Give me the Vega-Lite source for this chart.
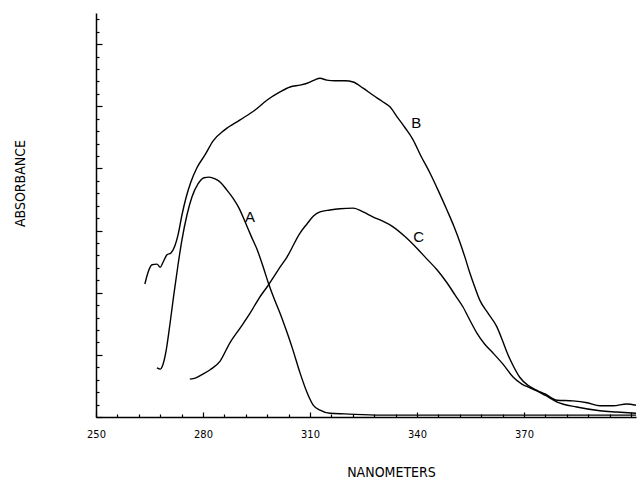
{
  "$schema": "https://vega.github.io/schema/vega-lite/v6.json",
  "width": 540,
  "height": 404,
  "autosize": "none",
  "padding": {"left": 96, "top": 13, "right": 1, "bottom": 62},
  "background": "white",
  "config": {
    "view": {"stroke": null},
    "axis": {"grid": false, "domainColor": "black", "tickColor": "black", "labelColor": "black", "titleColor": "black", "domainWidth": 1.5, "tickWidth": 1.2}
  },
  "datasets": {
    "curves": [
      {"s": "A", "nm": 267.1, "abs": 0.79}, {"s": "A", "nm": 268.0, "abs": 0.77}, {"s": "A", "nm": 268.8, "abs": 0.85},
      {"s": "A", "nm": 269.7, "abs": 1.08}, {"s": "A", "nm": 270.7, "abs": 1.48}, {"s": "A", "nm": 271.8, "abs": 1.96},
      {"s": "A", "nm": 273.0, "abs": 2.45}, {"s": "A", "nm": 274.1, "abs": 2.85}, {"s": "A", "nm": 275.5, "abs": 3.25},
      {"s": "A", "nm": 276.9, "abs": 3.54}, {"s": "A", "nm": 278.6, "abs": 3.75}, {"s": "A", "nm": 280.3, "abs": 3.85},
      {"s": "A", "nm": 281.7, "abs": 3.86}, {"s": "A", "nm": 283.4, "abs": 3.83}, {"s": "A", "nm": 285.0, "abs": 3.77},
      {"s": "A", "nm": 286.7, "abs": 3.65}, {"s": "A", "nm": 288.4, "abs": 3.52}, {"s": "A", "nm": 290.1, "abs": 3.36},
      {"s": "A", "nm": 291.8, "abs": 3.14}, {"s": "A", "nm": 293.5, "abs": 2.91}, {"s": "A", "nm": 295.2, "abs": 2.69},
      {"s": "A", "nm": 296.9, "abs": 2.41}, {"s": "A", "nm": 298.3, "abs": 2.16}, {"s": "A", "nm": 299.9, "abs": 1.91},
      {"s": "A", "nm": 301.6, "abs": 1.67}, {"s": "A", "nm": 303.5, "abs": 1.37}, {"s": "A", "nm": 305.2, "abs": 1.08},
      {"s": "A", "nm": 307.2, "abs": 0.71}, {"s": "A", "nm": 309.2, "abs": 0.39}, {"s": "A", "nm": 310.9, "abs": 0.19},
      {"s": "A", "nm": 312.8, "abs": 0.11}, {"s": "A", "nm": 315.6, "abs": 0.06}, {"s": "A", "nm": 319.8, "abs": 0.05},
      {"s": "A", "nm": 329.6, "abs": 0.03}, {"s": "A", "nm": 349.3, "abs": 0.03}, {"s": "A", "nm": 377.3, "abs": 0.03},
      {"s": "A", "nm": 401.4, "abs": 0.03},

      {"s": "B", "nm": 263.7, "abs": 2.14}, {"s": "B", "nm": 264.6, "abs": 2.33}, {"s": "B", "nm": 265.7, "abs": 2.45},
      {"s": "B", "nm": 267.1, "abs": 2.46}, {"s": "B", "nm": 268.0, "abs": 2.41}, {"s": "B", "nm": 268.8, "abs": 2.49},
      {"s": "B", "nm": 269.9, "abs": 2.61}, {"s": "B", "nm": 271.0, "abs": 2.64}, {"s": "B", "nm": 272.1, "abs": 2.75},
      {"s": "B", "nm": 273.0, "abs": 2.93}, {"s": "B", "nm": 274.1, "abs": 3.25}, {"s": "B", "nm": 275.2, "abs": 3.52},
      {"s": "B", "nm": 276.6, "abs": 3.78}, {"s": "B", "nm": 278.3, "abs": 4.01}, {"s": "B", "nm": 280.6, "abs": 4.22},
      {"s": "B", "nm": 282.8, "abs": 4.44}, {"s": "B", "nm": 286.1, "abs": 4.62}, {"s": "B", "nm": 290.4, "abs": 4.78},
      {"s": "B", "nm": 294.6, "abs": 4.94}, {"s": "B", "nm": 298.0, "abs": 5.10}, {"s": "B", "nm": 301.6, "abs": 5.23},
      {"s": "B", "nm": 304.4, "abs": 5.31}, {"s": "B", "nm": 307.2, "abs": 5.34}, {"s": "B", "nm": 309.2, "abs": 5.37},
      {"s": "B", "nm": 311.2, "abs": 5.42}, {"s": "B", "nm": 312.8, "abs": 5.45}, {"s": "B", "nm": 314.7, "abs": 5.42},
      {"s": "B", "nm": 317.0, "abs": 5.41}, {"s": "B", "nm": 319.8, "abs": 5.41}, {"s": "B", "nm": 322.1, "abs": 5.39},
      {"s": "B", "nm": 324.9, "abs": 5.29}, {"s": "B", "nm": 327.6, "abs": 5.18}, {"s": "B", "nm": 330.2, "abs": 5.08},
      {"s": "B", "nm": 332.4, "abs": 4.99}, {"s": "B", "nm": 334.4, "abs": 4.83}, {"s": "B", "nm": 336.7, "abs": 4.65},
      {"s": "B", "nm": 338.9, "abs": 4.46}, {"s": "B", "nm": 341.1, "abs": 4.20}, {"s": "B", "nm": 343.6, "abs": 3.93},
      {"s": "B", "nm": 345.9, "abs": 3.65}, {"s": "B", "nm": 348.4, "abs": 3.33}, {"s": "B", "nm": 350.4, "abs": 3.06},
      {"s": "B", "nm": 352.1, "abs": 2.80}, {"s": "B", "nm": 353.5, "abs": 2.56}, {"s": "B", "nm": 354.8, "abs": 2.32},
      {"s": "B", "nm": 356.2, "abs": 2.09}, {"s": "B", "nm": 357.6, "abs": 1.88}, {"s": "B", "nm": 359.9, "abs": 1.67},
      {"s": "B", "nm": 362.4, "abs": 1.45}, {"s": "B", "nm": 364.1, "abs": 1.21}, {"s": "B", "nm": 365.3, "abs": 1.03},
      {"s": "B", "nm": 367.0, "abs": 0.82}, {"s": "B", "nm": 368.8, "abs": 0.64}, {"s": "B", "nm": 371.1, "abs": 0.51},
      {"s": "B", "nm": 373.6, "abs": 0.43}, {"s": "B", "nm": 375.9, "abs": 0.37}, {"s": "B", "nm": 379.3, "abs": 0.27},
      {"s": "B", "nm": 383.7, "abs": 0.26}, {"s": "B", "nm": 387.7, "abs": 0.23}, {"s": "B", "nm": 391.3, "abs": 0.18},
      {"s": "B", "nm": 395.0, "abs": 0.18}, {"s": "B", "nm": 398.8, "abs": 0.21}, {"s": "B", "nm": 401.4, "abs": 0.19},

      {"s": "C", "nm": 276.3, "abs": 0.61}, {"s": "C", "nm": 278.0, "abs": 0.63}, {"s": "C", "nm": 279.7, "abs": 0.68},
      {"s": "C", "nm": 282.0, "abs": 0.76}, {"s": "C", "nm": 284.8, "abs": 0.90}, {"s": "C", "nm": 287.5, "abs": 1.19},
      {"s": "C", "nm": 290.4, "abs": 1.43}, {"s": "C", "nm": 293.2, "abs": 1.67}, {"s": "C", "nm": 295.7, "abs": 1.91},
      {"s": "C", "nm": 298.3, "abs": 2.12}, {"s": "C", "nm": 301.6, "abs": 2.41}, {"s": "C", "nm": 303.5, "abs": 2.57},
      {"s": "C", "nm": 307.2, "abs": 2.96}, {"s": "C", "nm": 309.2, "abs": 3.11}, {"s": "C", "nm": 310.9, "abs": 3.23},
      {"s": "C", "nm": 312.8, "abs": 3.30}, {"s": "C", "nm": 315.6, "abs": 3.33}, {"s": "C", "nm": 318.4, "abs": 3.35},
      {"s": "C", "nm": 322.1, "abs": 3.36}, {"s": "C", "nm": 324.9, "abs": 3.30}, {"s": "C", "nm": 327.6, "abs": 3.22},
      {"s": "C", "nm": 330.4, "abs": 3.15}, {"s": "C", "nm": 333.3, "abs": 3.06}, {"s": "C", "nm": 336.7, "abs": 2.90},
      {"s": "C", "nm": 339.9, "abs": 2.72}, {"s": "C", "nm": 342.8, "abs": 2.54}, {"s": "C", "nm": 345.6, "abs": 2.37},
      {"s": "C", "nm": 348.4, "abs": 2.16}, {"s": "C", "nm": 350.7, "abs": 1.96}, {"s": "C", "nm": 352.9, "abs": 1.77},
      {"s": "C", "nm": 354.8, "abs": 1.56}, {"s": "C", "nm": 356.8, "abs": 1.35}, {"s": "C", "nm": 359.0, "abs": 1.17},
      {"s": "C", "nm": 361.3, "abs": 1.03}, {"s": "C", "nm": 364.1, "abs": 0.85}, {"s": "C", "nm": 367.0, "abs": 0.64},
      {"s": "C", "nm": 369.4, "abs": 0.53}, {"s": "C", "nm": 371.7, "abs": 0.47}, {"s": "C", "nm": 373.6, "abs": 0.42},
      {"s": "C", "nm": 375.9, "abs": 0.35}, {"s": "C", "nm": 379.3, "abs": 0.24}, {"s": "C", "nm": 384.8, "abs": 0.16},
      {"s": "C", "nm": 391.3, "abs": 0.10}, {"s": "C", "nm": 396.0, "abs": 0.08}, {"s": "C", "nm": 401.4, "abs": 0.06}
    ],
    "labels": [
      {"s": "A", "nm": 293.2, "abs": 3.22},
      {"s": "B", "nm": 339.8, "abs": 4.73},
      {"s": "C", "nm": 340.5, "abs": 2.90}
    ]
  },
  "layer": [
    {
      "data": {"name": "curves"},
      "mark": {"type": "line", "stroke": "black", "strokeWidth": 1.4, "clip": true, "interpolate": "monotone"},
      "encoding": {
        "x": {
          "field": "nm", "type": "quantitative",
          "scale": {"domain": [250, 401.4], "nice": false, "zero": false},
          "axis": {
            "values": [250,256,262,268,274,280,286,292,298,304,310,316,322,328,334,340,346,352,358,364,370,376,382,388,394,400],
            "tickCount": 200,
            "tickSize": {"condition": {"test": "datum.value % 30 === 10", "value": -5}, "value": -3},
            "labelExpr": "datum.value % 30 === 10 && datum.value < 400 ? datum.label : ''",
            "labelFont": "DejaVu Sans Condensed", "labelFontSize": 11, "labelPadding": 16, "labelBaseline": "top",
            "labelOverlap": false, "labelFlush": false,
            "title": "NANOMETERS", "titleFont": "DejaVu Sans Condensed", "titleFontSize": 14, "titleFontWeight": "normal",
            "titleX": 295, "titleY": 55, "titleBaseline": "middle", "titleAnchor": "middle"
          }
        },
        "y": {
          "field": "abs", "type": "quantitative",
          "scale": {"domain": [0, 6.5], "nice": false, "zero": false},
          "axis": {
            "values": [0,0.2,0.4,0.6,0.8,1,1.2,1.4,1.6,1.8,2,2.2,2.4,2.6,2.8,3,3.2,3.4,3.6,3.8,4,4.2,4.4,4.6,4.8,5,5.2,5.4,5.6,5.8,6,6.2,6.4],
            "tickCount": 200,
            "tickSize": {"condition": {"test": "abs(datum.value - round(datum.value)) < 0.001", "value": -6}, "value": -3},
            "labels": false,
            "title": "ABSORBANCE", "titleFont": "DejaVu Sans Condensed", "titleFontSize": 14, "titleFontWeight": "normal",
            "titleX": -76, "titleY": 170, "titleBaseline": "middle", "titleAnchor": "middle"
          }
        },
        "detail": {"field": "s"}
      }
    },
    {
      "data": {"name": "labels"},
      "mark": {"type": "text", "font": "Liberation Sans", "fontSize": 15, "color": "black", "align": "center", "baseline": "middle"},
      "encoding": {
        "x": {"field": "nm", "type": "quantitative"},
        "y": {"field": "abs", "type": "quantitative"},
        "text": {"field": "s"}
      }
    }
  ]
}
